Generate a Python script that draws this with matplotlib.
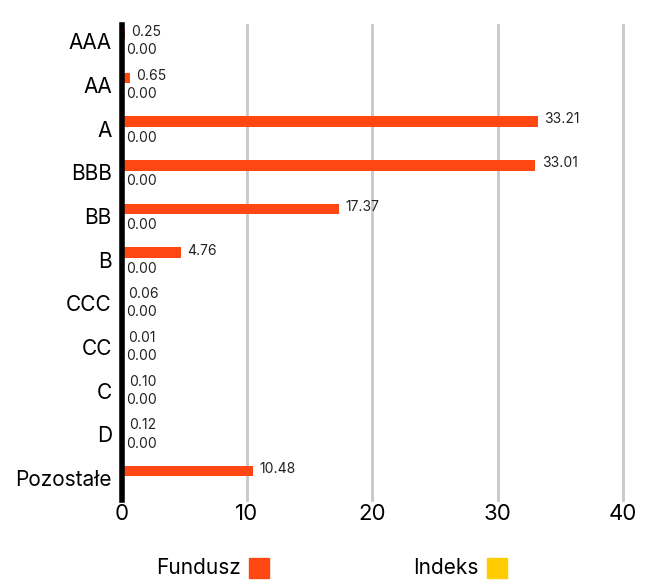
import matplotlib.pyplot as plt
import numpy as np
from matplotlib.patches import Rectangle

categories = ['AAA', 'AA', 'A', 'BBB', 'BB', 'B', 'CCC', 'CC', 'C', 'D', 'Pozostałe']
fundusz = [0.25, 0.65, 33.21, 33.01, 17.37, 4.76, 0.06, 0.01, 0.10, 0.12, 10.48]
indeks = [0.00, 0.00, 0.00, 0.00, 0.00, 0.00, 0.00, 0.00, 0.00, 0.00, None]
xticks = [0, 10, 20, 30, 40]

c_fund = '#FF4713'
c_idx = '#FFCC00'

plt.rcParams['font.family'] = ['Inter', 'DejaVu Sans']

fig = plt.figure(figsize=(6.48, 5.81), dpi=100)
ax = fig.add_axes([0.1875, 0.1394, 0.7739, 0.8176])

for s in ['top', 'right', 'bottom']:
    ax.spines[s].set_visible(False)
ax.spines['left'].set_linewidth(4)
ax.spines['left'].set_color('black')
ax.spines['left'].set_zorder(7)

y = np.arange(len(categories))
off = 0.16
h = 0.24
ax.barh(y - off, fundusz, height=h, color=c_fund, zorder=6)
idx_vals = [v if v is not None else 0 for v in indeks]
ax.barh(y + off, idx_vals, height=h, color=c_idx, zorder=6)

for i, v in enumerate(fundusz):
    ax.annotate('%.2f' % v, (v, y[i] - off), xytext=(4.5, 1.5), textcoords='offset points',
                va='center', ha='left', fontsize=10, color='#222222')
for i, v in enumerate(indeks):
    if v is None:
        continue
    ax.annotate('%.2f' % v, (v, y[i] + off), xytext=(3.5, -1.5), textcoords='offset points',
                va='center', ha='left', fontsize=10, color='#222222')

ax.set_xlim(0, 40)
ax.set_ylim(10.5, -0.37)
ax.set_yticks(y)
ax.set_yticklabels(categories, fontsize=15)
ax.set_xticks(xticks)
ax.set_xticklabels([str(t) for t in xticks], fontsize=16)
ax.tick_params(axis='both', length=0, pad=3)
ax.tick_params(axis='y', pad=7)

ax.grid(axis='x', color='#c8c8c8', linewidth=2, zorder=0)
for gl in ax.get_xgridlines():
    gl.set_clip_on(False)

# legend
fig.text(241 / 648, 1 - 568 / 581, 'Fundusz', ha='right', va='center', fontsize=15)
fig.patches.append(Rectangle((249 / 648, 1 - 578 / 581), 20 / 648, 20 / 581,
                             transform=fig.transFigure, color=c_fund))
fig.text(479 / 648, 1 - 568 / 581, 'Indeks', ha='right', va='center', fontsize=15)
fig.patches.append(Rectangle((487 / 648, 1 - 578 / 581), 20 / 648, 20 / 581,
                             transform=fig.transFigure, color=c_idx))

fig.savefig('out.png', dpi=100)
